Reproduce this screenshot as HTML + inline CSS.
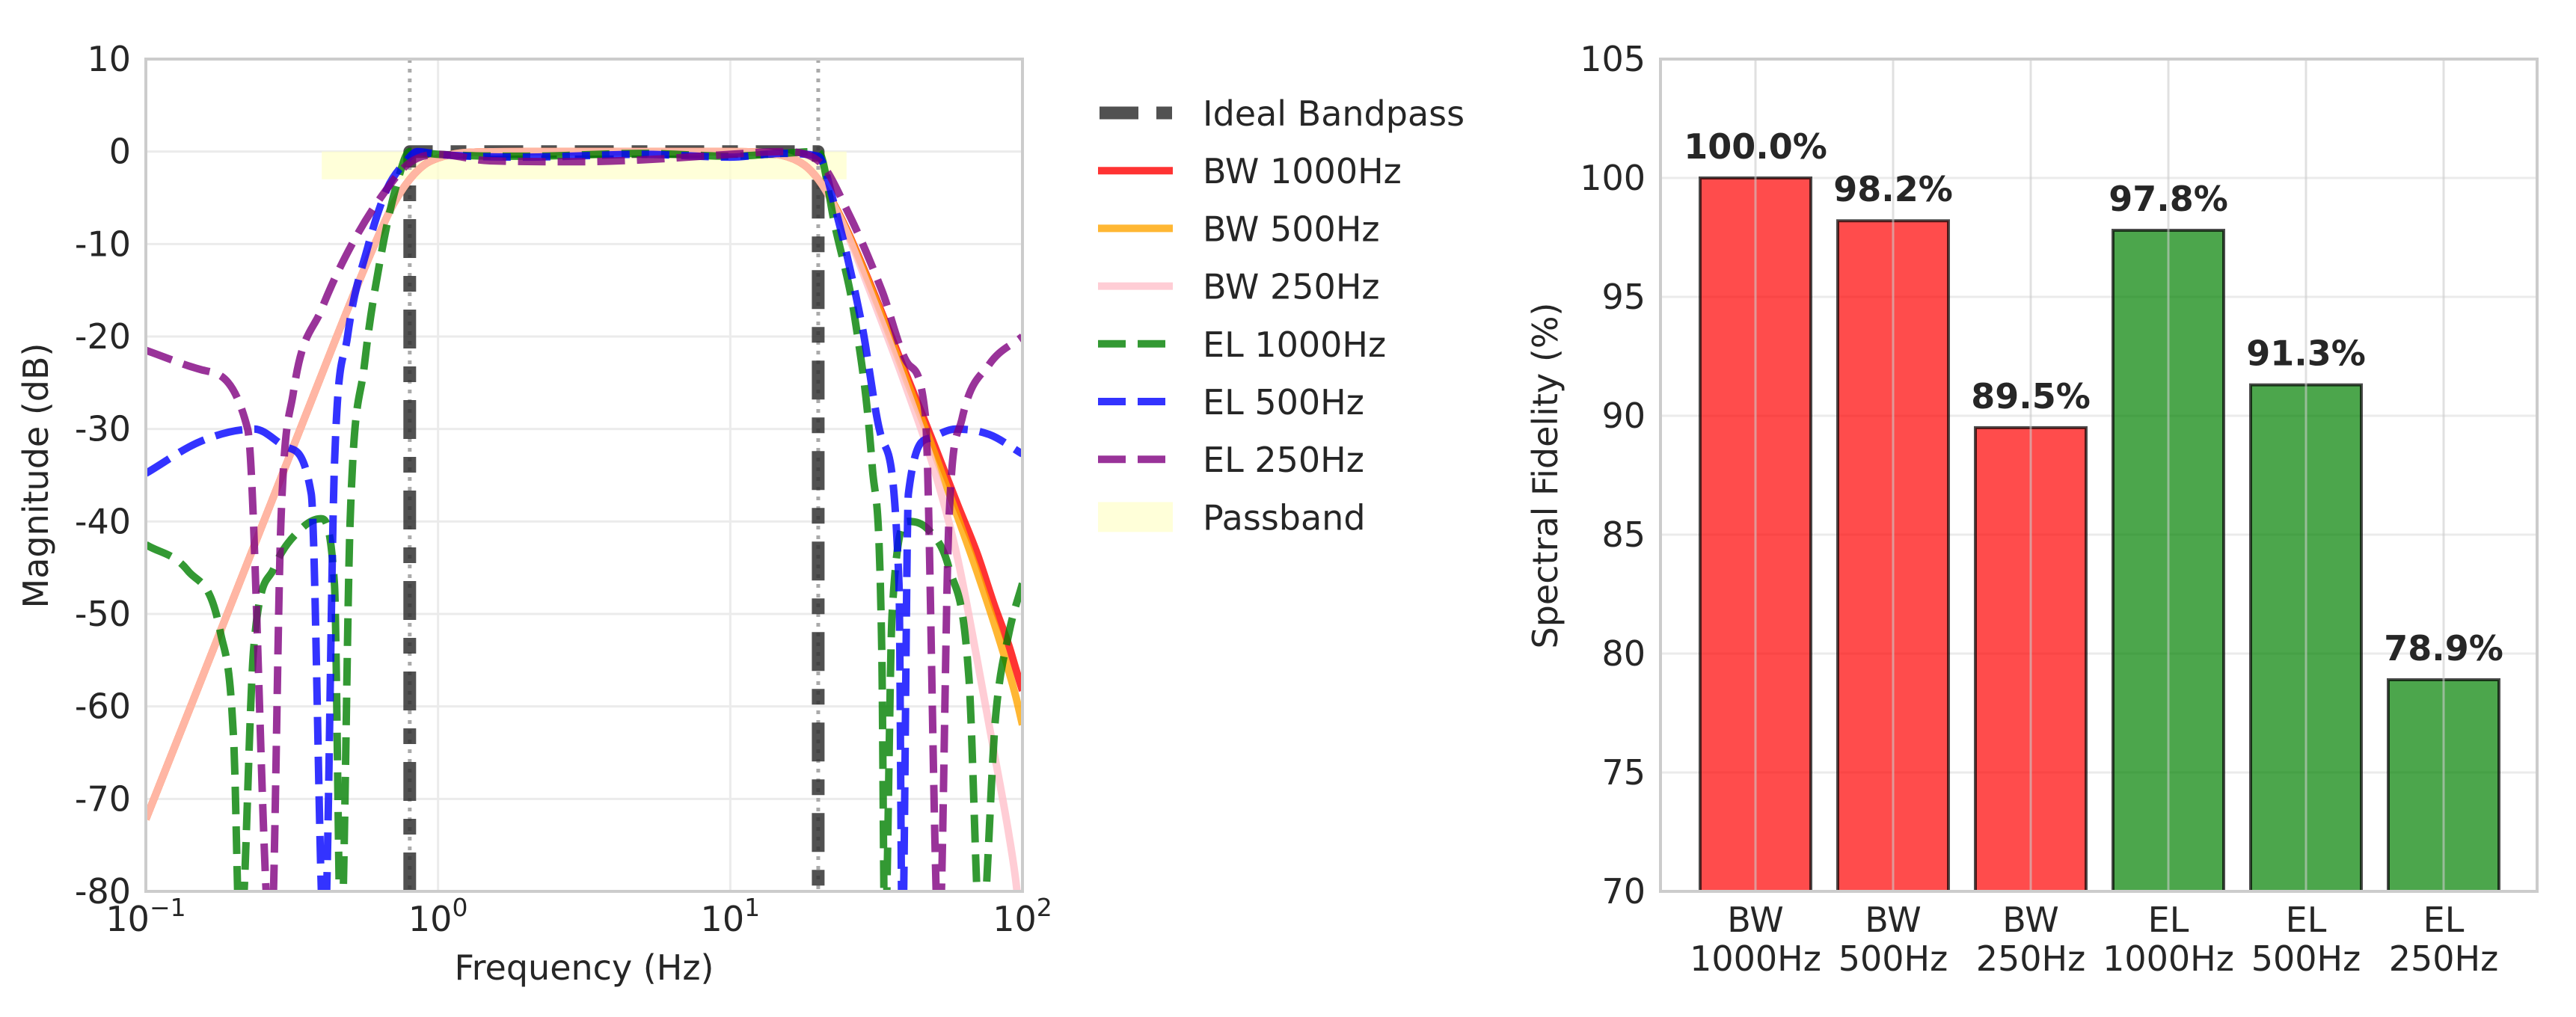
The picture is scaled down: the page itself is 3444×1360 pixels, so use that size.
<!DOCTYPE html>
<html><head><meta charset="utf-8">
<style>
html,body{margin:0;padding:0;background:#fff;overflow:hidden;width:3444px;height:1360px;}
svg{display:block;overflow:hidden;font-family:"DejaVu Sans","Liberation Sans",sans-serif;}
</style></head>
<body>
<svg id="fig" width="3444" height="1360" viewBox="0 0 3444 1360" xmlns="http://www.w3.org/2000/svg">
<defs>
<clipPath id="clipL"><rect x="195" y="79" width="1172" height="1113"/></clipPath>
</defs>
<g id="left"></g>
<g id="right"></g>
</svg>
<script>
const NS="http://www.w3.org/2000/svg";
// ---- Left chart data ----
const yTicksL=[10,0,-10,-20,-30,-40,-50,-60,-70,-80];
const xDecades=[-1,0,1,2];
const bandEdges=[0.8,20];
const passbandFreq=[0.4,25];
const passbandDb=[0,-3];
const idealFreq=[0.8,0.8,20,20];
const idealDb=[-80,0,0,-80];
const bwFreq=[0.1,0.15,0.2,0.3,0.4,0.5,0.6,0.7,0.8,0.9,1,1.2,1.5,2,5,10,15,18,20,22,25,30,40,50,60,70,80,90,95,100];
const bw1000Db=[-72.2,-58.2,-48.2,-34.1,-24.1,-16.4,-10.4,-5.8,-3,-1.4,-0.7,-0.15,-0.03,0,0,0,-0.4,-1.5,-3,-5,-8.4,-14.2,-24.1,-31.8,-38.2,-43.5,-49,-53.5,-56,-58.3];
const bw500Db=[-72.2,-58.2,-48.2,-34.1,-24.1,-16.4,-10.4,-5.8,-3,-1.4,-0.7,-0.15,-0.03,0,0,0,-0.4,-1.5,-3,-5,-8.5,-14.4,-24.6,-32.6,-39.5,-45.5,-51,-56.3,-59,-62];
const bw250Db=[-72.2,-58.2,-48.2,-34.1,-24.1,-16.4,-10.4,-5.8,-3,-1.4,-0.7,-0.15,-0.03,0,0,0,-0.4,-1.5,-3,-5.1,-8.7,-15,-25.5,-34.5,-44,-55,-65,-74,-79,-88];
const el1000Freq=[0.1,0.139,0.18,0.2,0.21,0.234,0.275,0.34,0.397,0.442,0.465,0.5,0.56,0.64,0.73,0.8,1,2,5,10,15,20,22.8,26.9,30.6,33,33.8,35.8,40.7,48,56,65.6,72,81,90,100];
const el1000Db=[-42.5,-45.3,-52,-64,-100,-53.7,-45,-40.8,-39.7,-46.7,-100,-40,-23,-11,-3,0,-0.3,-0.5,-0.2,-0.5,-0.2,0,-8,-18.7,-34,-54,-100,-50,-40,-41,-45,-57,-100,-61,-52,-46.7];
const el500Freq=[0.1,0.155,0.235,0.305,0.368,0.408,0.442,0.49,0.575,0.67,0.77,0.85,1,2,5,10,15,20,22.8,28.2,33,37.8,38.8,40.7,48,59,77,100];
const el500Db=[-34.8,-31.3,-30,-32,-37,-100,-34,-20,-10.3,-4,-1.2,0,-0.3,-0.6,-0.3,-0.6,-0.2,-0.5,-6,-18.7,-31,-46.7,-100,-37,-31,-30,-30.6,-32.7];
const el250Freq=[0.1,0.155,0.223,0.268,0.29,0.32,0.4,0.516,0.67,0.8,1,1.5,3,5,10,15,20,25.5,33,40.7,46.5,51.8,56,62,77,100];
const el250Db=[-21.5,-23.6,-30,-100,-40,-26,-17,-9.6,-4,-1.2,-0.3,-1,-1.1,-0.9,-0.3,0,-1,-6.8,-15,-23,-28.5,-100,-40,-29,-23,-20];
// ---- Right chart data ----
const barCats=[["BW","1000Hz"],["BW","500Hz"],["BW","250Hz"],["EL","1000Hz"],["EL","500Hz"],["EL","250Hz"]];
const barVals=[100.0,98.2,89.5,97.8,91.3,78.9];
const barLabels=["100.0%","98.2%","89.5%","97.8%","91.3%","78.9%"];
const barGroup=["BW","BW","BW","EL","EL","EL"];
const yTicksR=[70,75,80,85,90,95,100,105];

function el(tag,attrs,parent,text){const e=document.createElementNS(NS,tag);for(const k in attrs)e.setAttribute(k,attrs[k]);if(text!==undefined)e.textContent=text;parent.appendChild(e);return e;}
const TXT="#262626";
const L={x0:195,x1:1367,y0:79,y1:1192,lmin:-1,lmax:2,dmin:-80,dmax:10};
const xL=f=>L.x0+(Math.log10(f)-L.lmin)/(L.lmax-L.lmin)*(L.x1-L.x0);
const yL=d=>L.y1-(d-L.dmin)/(L.dmax-L.dmin)*(L.y1-L.y0);
const yC=d=>yL(Math.max(d,-86));
const gl=document.getElementById('left');
el('rect',{x:L.x0,y:L.y0,width:L.x1-L.x0,height:L.y1-L.y0,fill:'#fff'},gl);
yTicksL.forEach(t=>{
  const g=el('line',{x1:L.x0,x2:L.x1,y1:yL(t),y2:yL(t),stroke:'#ebebeb','stroke-width':3},gl);
  
  
  const tx=el('text',{x:175,y:yL(t)+16,'text-anchor':'end','font-size':46,fill:TXT},gl,String(t));
  
  
});
xDecades.forEach(d=>{
  const x=xL(Math.pow(10,d));
  const g=el('line',{x1:x,x2:x,y1:L.y0,y2:L.y1,stroke:'#ebebeb','stroke-width':3},gl);
  
  
  const t=el('text',{x:x,y:1245,'text-anchor':'middle','font-size':46,fill:TXT},gl);
  
  
  el('tspan',{},t,'10');
  el('tspan',{dy:-20,'font-size':33},t,d<0?'\u2212'+Math.abs(d):String(d));
});
const pb=el('rect',{x:xL(passbandFreq[0]),y:yL(passbandDb[0]),width:xL(passbandFreq[1])-xL(passbandFreq[0]),height:yL(passbandDb[1])-yL(passbandDb[0]),fill:'#ffffcc','fill-opacity':0.75},gl);


bandEdges.forEach(f=>{
  const l=el('line',{x1:xL(f),x2:xL(f),y1:L.y0,y2:L.y1,stroke:'#aaaaaa','stroke-width':5,'stroke-dasharray':'5 8'},gl);
  
  
});
const cg=el('g',{'clip-path':'url(#clipL)'},gl);
function linePath(fr,db){return fr.map((f,i)=>(i?'L':'M')+xL(f).toFixed(1)+','+yC(db[i]).toFixed(1)).join('');}
function smoothPath(fr,db){
  const X=fr.map(xL),Y=db.map(yC),n=X.length;
  const d=[],m=[];
  for(let i=0;i<n-1;i++)d.push((Y[i+1]-Y[i])/(X[i+1]-X[i]));
  m[0]=d[0];m[n-1]=d[n-2];
  for(let i=1;i<n-1;i++){m[i]=(d[i-1]*d[i]<=0)?0:(d[i-1]+d[i])/2;}
  for(let i=0;i<n-1;i++){
    if(d[i]===0){m[i]=0;m[i+1]=0;continue;}
    const a=m[i]/d[i],b=m[i+1]/d[i],h=a*a+b*b;
    if(h>9){const t=3/Math.sqrt(h);m[i]=t*a*d[i];m[i+1]=t*b*d[i];}
  }
  let s='M'+X[0].toFixed(1)+','+Y[0].toFixed(1);
  for(let i=0;i<n-1;i++){
    const h=(X[i+1]-X[i])/3;
    s+='C'+(X[i]+h).toFixed(1)+','+(Y[i]+m[i]*h).toFixed(1)+' '+(X[i+1]-h).toFixed(1)+','+(Y[i+1]-m[i+1]*h).toFixed(1)+' '+X[i+1].toFixed(1)+','+Y[i+1].toFixed(1);
  }
  return s;
}
const series=[
 {n:'ideal-bandpass-line',f:idealFreq,d:idealDb,c:'#333333',w:17,da:'52 24 21 24',o:0.85,sm:false},
 {n:'bw-1000hz-line',f:bwFreq,d:bw1000Db,c:'#ff0000',w:10,da:'',o:0.8,sm:true},
 {n:'bw-500hz-line',f:bwFreq,d:bw500Db,c:'#ffa500',w:10,da:'',o:0.8,sm:true},
 {n:'bw-250hz-line',f:bwFreq,d:bw250Db,c:'#ffc0cb',w:10,da:'',o:0.8,sm:true},
 {n:'el-1000hz-line',f:el1000Freq,d:el1000Db,c:'#008000',w:10,da:'37 16',o:0.8,sm:true},
 {n:'el-500hz-line',f:el500Freq,d:el500Db,c:'#0000ff',w:10,da:'37 16',o:0.8,sm:true},
 {n:'el-250hz-line',f:el250Freq,d:el250Db,c:'#800080',w:10,da:'37 16',o:0.8,sm:true}
];
series.forEach(s=>{
  const p=el('path',{d:s.sm?smoothPath(s.f,s.d):linePath(s.f,s.d),fill:'none',stroke:s.c,'stroke-width':s.w,'stroke-opacity':s.o,'stroke-dasharray':s.da,'stroke-linejoin':'round'},cg);
  
  
});
el('rect',{x:L.x0,y:L.y0,width:L.x1-L.x0,height:L.y1-L.y0,fill:'none',stroke:'#cccccc','stroke-width':4},gl);
let t=el('text',{x:781,y:1310,'text-anchor':'middle','font-size':46,fill:TXT},gl,'Frequency (Hz)');


t=el('text',{x:0,y:0,transform:'translate(64,636) rotate(-90)','text-anchor':'middle','font-size':46,fill:TXT},gl,'Magnitude (dB)');


const lg=el('g',{},gl);


const legItems=[['Ideal Bandpass',0],['BW 1000Hz',1],['BW 500Hz',2],['BW 250Hz',3],['EL 1000Hz',4],['EL 500Hz',5],['EL 250Hz',6],['Passband',-1]];
legItems.forEach((it,i)=>{
  const y=151+i*77.2;
  const e=el('g',{},lg);
  
  
  if(it[1]<0){el('rect',{x:1468,y:y-20,width:100,height:40,fill:'#ffffcc','fill-opacity':0.75},e);}
  else{const s=series[it[1]];
    el('line',{x1:s.w>12?1470:1468,x2:1568,y1:y,y2:y,stroke:s.c,'stroke-width':s.w,'stroke-opacity':s.o,'stroke-dasharray':s.da},e);}
  el('text',{x:1608,y:y+17,'font-size':46,fill:TXT},e,it[0]);
});
const R={x0:2220,x1:3392,y0:79,y1:1192,vmin:70,vmax:105,c0:2347,step:184,bw:148};
const yR=v=>R.y1-(v-R.vmin)/(R.vmax-R.vmin)*(R.y1-R.y0);
const xR=i=>R.c0+i*R.step;
const gr=document.getElementById('right');
el('rect',{x:R.x0,y:R.y0,width:R.x1-R.x0,height:R.y1-R.y0,fill:'#fff'},gr);
yTicksR.forEach(v=>{
  const g=el('line',{x1:R.x0,x2:R.x1,y1:yR(v),y2:yR(v),stroke:'#ebebeb','stroke-width':3},gr);
  
  
  const tx=el('text',{x:2200,y:yR(v)+16,'text-anchor':'end','font-size':46,fill:TXT},gr,String(v));
  
  
});
barVals.forEach((v,i)=>{
  const b=el('rect',{x:xR(i)-R.bw/2,y:yR(v),width:R.bw,height:R.y1-yR(v),fill:barGroup[i]==='BW'?'#ff0000':'#008000','fill-opacity':0.7,stroke:'#000','stroke-opacity':0.7,'stroke-width':4},gr);
  
  
});
barCats.forEach((c,i)=>{
  const g=el('line',{x1:xR(i),x2:xR(i),y1:R.y0,y2:R.y1,stroke:'#cccccc','stroke-width':3,'stroke-opacity':0.6},gr);
  
  
  const t1=el('text',{x:xR(i),y:1246,'text-anchor':'middle','font-size':46,fill:TXT},gr,c[0]);
  
  
  const t2=el('text',{x:xR(i),y:1298,'text-anchor':'middle','font-size':46,fill:TXT},gr,c[1]);
  
  
  const vl=el('text',{x:xR(i),y:yR(barVals[i])-26,'text-anchor':'middle','font-size':46,'font-weight':'bold',fill:TXT},gr,barLabels[i]);
  
  
});
el('rect',{x:R.x0,y:R.y0,width:R.x1-R.x0,height:R.y1-R.y0,fill:'none',stroke:'#cccccc','stroke-width':4},gr);
t=el('text',{x:0,y:0,transform:'translate(2082,636) rotate(-90)','text-anchor':'middle','font-size':46,fill:TXT},gr,'Spectral Fidelity (%)');


</script>
</body></html>
